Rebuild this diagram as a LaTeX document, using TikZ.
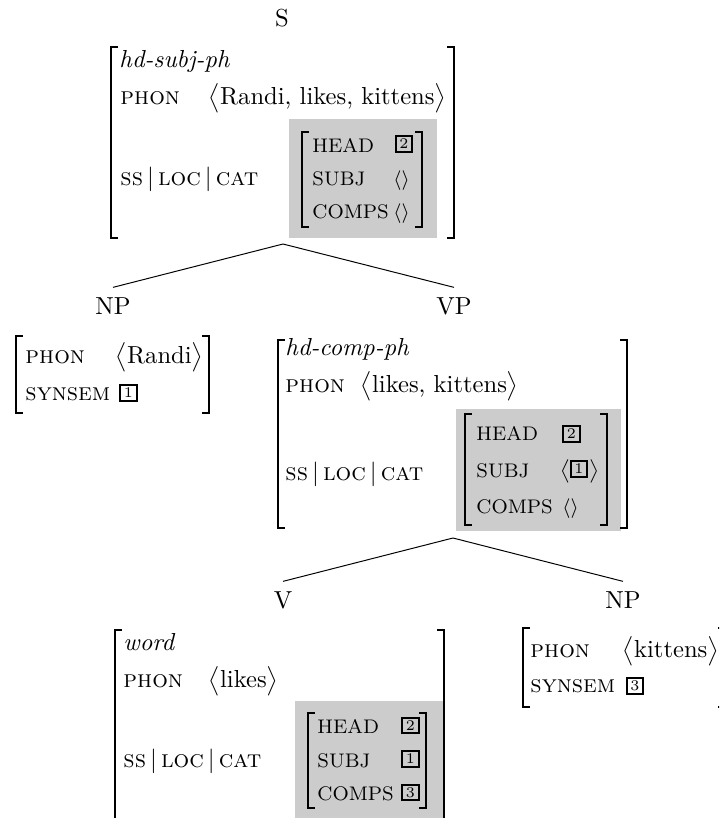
\documentclass[tikz,border=0pt]{standalone}
\usepackage{tikz}
\usepackage{amssymb}
\usepackage{amsmath}

\begin{document}
\begin{tikzpicture}[x=0.4065pt,y=-0.4065pt,
  catlabel/.style={inner sep=0pt,outer sep=4pt,anchor=base},
  typ/.style={inner sep=0pt,anchor=base west,font=\itshape},
  attr/.style={inner sep=0pt,anchor=base west,font=\scshape},
  feat/.style={inner sep=0pt,anchor=base west,font=\footnotesize},
  val/.style={inner sep=0pt,anchor=base west},
  tag/.style={draw,line width=0.8pt,inner sep=0pt,minimum width=6.8pt,minimum height=6.4pt,font=\fontsize{6}{6}\selectfont},
  brack/.style={line width=0.5pt},
  greybox/.style={fill=gray!40}]
\useasboundingbox (0,0) rectangle (719,818);
\clip (0,0) rectangle (719,818);

\fill[greybox] (289,119) rectangle (437,238);
\fill[greybox] (456,409) rectangle (621,531);
\fill[greybox] (295,701) rectangle (443,830);

\foreach \l/\r/\t/\b in {111/454/47/238, 302/422/132/227, 16/209/336/413, 278/627/340/528,
  465/607/414/525, 115/444/630/840, 308/426/713/808, 523/725/628/707}
{
  \draw[brack] ({\l+7},\t) -- (\l,\t) -- (\l,\b) -- ({\l+7},\b);
  \draw[brack] ({\r-7},\t) -- (\r,\t) -- (\r,\b) -- ({\r-7},\b);
}

\node[catlabel] (s) at (282,27) {S};
\node[typ] (s-type) at (119,67) {hd-subj-ph};
\node[attr] (s-phon) at (120,104) {phon};
\node[val] (s-phon-val) at (208,104) {$\bigl\langle\text{Randi, likes, kittens}\bigr\rangle$};
\node[attr] (s-path) at (120,185) {ss\,$|$\,loc\,$|$\,cat};
\node[feat] (s-head) at (312,152) {HEAD};
\node[tag] (s-head-val) at (404,144) {2};
\node[feat] (s-subj) at (312,185) {SUBJ};
\node[val,font=\footnotesize] (s-subj-val) at (393,185) {$\langle\rangle$};
\node[feat] (s-comps) at (312,218) {COMPS};
\node[val,font=\footnotesize] (s-comps-val) at (393,218) {$\langle\rangle$};

\coordinate (s-root) at (283,244);
\node[catlabel] (np) at (113,314) {NP};
\node[catlabel] (vp) at (454,314) {VP};
\draw (s-root) -- (np.north) (s-root) -- (vp.north);

\node[attr] (np-phon) at (25,363) {phon};
\node[val] (np-phon-val) at (115,363) {$\bigl\langle\text{Randi}\bigr\rangle$};
\node[attr] (np-synsem) at (25,400) {synsem};
\node[tag] (np-synsem-val) at (128.5,393) {1};

\node[typ] (vp-type) at (285,355) {hd-comp-ph};
\node[attr] (vp-phon) at (285,392) {phon};
\node[val] (vp-phon-val) at (360,392) {$\bigl\langle\text{likes, kittens}\bigr\rangle$};
\node[attr] (vp-path) at (285,480) {ss\,$|$\,loc\,$|$\,cat};
\node[feat] (vp-head) at (476,440) {HEAD};
\node[tag] (vp-head-val) at (571.5,434) {2};
\node[feat] (vp-subj) at (476,477) {SUBJ};
\node[val,font=\footnotesize] (vp-subj-l) at (560,476) {$\bigl\langle$};
\node[tag] (vp-subj-val) at (579,469) {1};
\node[val,font=\footnotesize] (vp-subj-r) at (589,476) {$\bigr\rangle$};
\node[feat] (vp-comps) at (476,513) {COMPS};
\node[val,font=\footnotesize] (vp-comps-val) at (562,513) {$\langle\rangle$};

\coordinate (vp-root) at (453,538);
\node[catlabel] (v) at (283,608) {V};
\node[catlabel] (np2) at (623,608) {NP};
\draw (vp-root) -- (v.north) (vp-root) -- (np2.north);

\node[typ] (v-type) at (123,650) {word};
\node[attr] (v-phon) at (123,687) {phon};
\node[val] (v-phon-val) at (208,687) {$\bigl\langle\text{likes}\bigr\rangle$};
\node[attr] (v-path) at (123,767) {ss\,$|$\,loc\,$|$\,cat};
\node[feat] (v-head) at (317,733) {HEAD};
\node[tag] (v-head-val) at (410.5,725.5) {2};
\node[feat] (v-subj) at (317,767) {SUBJ};
\node[tag] (v-subj-val) at (410.5,759) {1};
\node[feat] (v-comps) at (317,800) {COMPS};
\node[tag] (v-comps-val) at (410.5,792.5) {3};

\node[attr] (np2-phon) at (530,657) {phon};
\node[val] (np2-phon-val) at (622,657) {$\bigl\langle\text{kittens}\bigr\rangle$};
\node[attr] (np2-synsem) at (530,692) {synsem};
\node[tag] (np2-synsem-val) at (635,686) {3};
\end{tikzpicture}
\end{document}
